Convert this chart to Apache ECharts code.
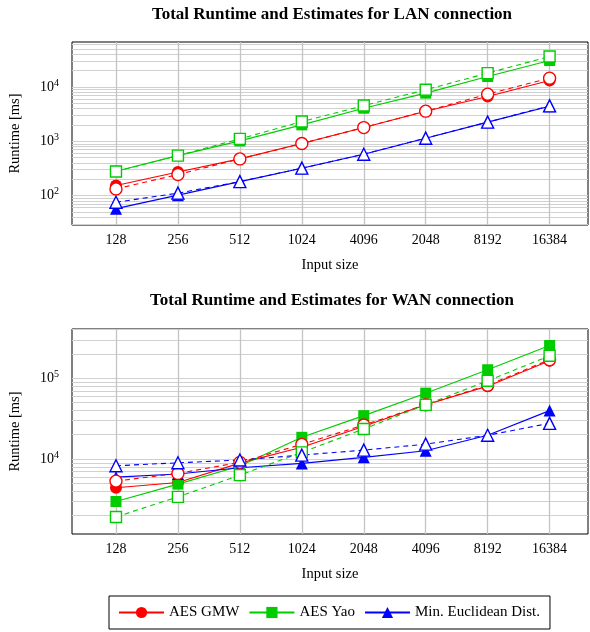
<!DOCTYPE html>
<html>
<head>
<meta charset="utf-8">
<script src="https://cdn.jsdelivr.net/npm/echarts@6/dist/echarts.min.js"></script>
<style>
  html, body { margin: 0; padding: 0; background: #fff; }
  #chart { width: 590px; height: 632px; }
</style>
</head>
<body>
<div id="chart"></div>
<script>
// input sizes (LAN plot has 4096/2048 swapped, as in the original)
var lanSizes = ['128', '256', '512', '1024', '4096', '2048', '8192', '16384'];
var wanSizes = ['128', '256', '512', '1024', '2048', '4096', '8192', '16384'];

// LAN runtimes [ms]: measured and estimated
var lanGmw    = [153, 273, 474, 908, 1786, 3580, 6650, 13100];
var lanGmwEst = [133, 244, 474, 908, 1786, 3580, 7360, 14500];
var lanYao    = [280, 545, 1016, 2005, 4060, 7690, 15560, 30600];
var lanYaoEst = [277, 545, 1107, 2306, 4540, 8850, 17950, 36300];
var lanEuc    = [57.6, 102, 181, 320, 578, 1140, 2250, 4400];
var lanEucEst = [75.5, 111, 181, 320, 578, 1140, 2250, 4490];

// WAN runtimes [ms]
var wanGmw    = [4410, 5130, 8900, 14000, 25500, 47000, 80000, 165000];
var wanGmwEst = [5330, 6640, 9100, 15200, 26400, 47000, 82000, 170000];
var wanYao    = [2980, 4890, 8190, 18600, 34500, 65500, 127700, 255000];
var wanYaoEst = [1920, 3400, 6320, 12100, 23600, 46900, 93100, 190000];
var wanEuc    = [5970, 6520, 7800, 8840, 10500, 12700, 19700, 39800];
var wanEucEst = [8260, 8990, 9720, 11200, 12900, 15300, 19700, 27700];

var lanRange = [28.8, 67100];
var wanRange = [1180, 408000];

var serif = 'Liberation Serif';
var red = '#ff0000', green = '#00cc00', blue = '#0000ff';

var chart = echarts.init(document.getElementById('chart'), null, { renderer: 'canvas' });

// log grid lines at 1..9 x 10^k inside the range
function gridLines(range, n) {
  var out = [];
  for (var k = -1; k < 7; k++) {
    for (var m = 1; m < 10; m++) {
      var v = m * Math.pow(10, k);
      if (v > range[0] * 1.001 && v < range[1] * 0.999) out.push({ yAxis: v });
    }
  }
  for (var i = 0; i < n; i++) {
    out.push({ xAxis: i, lineStyle: { color: '#c4c4c4', width: 1.3 } });
  }
  return out;
}

function logLabel(v) {
  var l = Math.log10(v), e = Math.round(l);
  if (Math.abs(l - e) > 1e-6) return '';
  return '{b|10}{e|' + e + '}';
}

function pair(arr) {
  return arr.map(function (v, i) { return [i, v]; });
}

function measured(name, data, color, symbol, size, g, range, n) {
  var s = {
    name: name, type: 'line', xAxisIndex: g, yAxisIndex: g,
    data: pair(data), symbol: symbol, symbolSize: size,
    showAllSymbol: true,
    itemStyle: { color: color },
    lineStyle: { color: color, width: 1.1 },
    z: 3
  };
  if (range) {
    s.markLine = {
      silent: true, z: 1, animation: false,
      symbol: ['none', 'none'],
      label: { show: false },
      lineStyle: { color: '#d0d0d0', width: 1, type: 'solid' },
      data: gridLines(range, n)
    };
  }
  return s;
}

function estimate(name, data, color, symbol, size, g) {
  return {
    name: name + ' (est.)', type: 'line', xAxisIndex: g, yAxisIndex: g,
    data: pair(data), symbol: symbol, symbolSize: size,
    showAllSymbol: true,
    itemStyle: { color: '#fff', borderColor: color, borderWidth: 1.4 },
    lineStyle: { color: color, width: 1.1, type: [5, 4] },
    z: 4
  };
}

function xAxisFor(g, labels) {
  var idx = labels.map(function (s, i) { return i; });
  return {
    type: 'value', gridIndex: g, min: -0.71, max: 7.62,
    axisLine: { show: false },
    splitLine: { show: false },
    axisTick: { show: true, inside: true, length: 4, customValues: idx, lineStyle: { color: '#000' } },
    axisLabel: {
      customValues: idx, color: '#000', fontFamily: serif, fontSize: 14, margin: 8,
      formatter: function (v) { return labels[Math.round(v)]; }
    },
    name: 'Input size', nameLocation: 'middle', nameGap: 33,
    nameTextStyle: { color: '#000', fontFamily: serif, fontSize: 14.5 }
  };
}

function yAxisFor(g, range) {
  return {
    type: 'log', logBase: 10, gridIndex: g, min: range[0], max: range[1],
    axisLine: { show: false },
    splitLine: { show: false },
    axisTick: { show: false },
    axisLabel: {
      margin: 13, formatter: logLabel,
      rich: {
        b: { fontFamily: serif, fontSize: 14, color: '#000', lineHeight: 18 },
        e: { fontFamily: serif, fontSize: 10, color: '#000', lineHeight: 11, verticalAlign: 'top' }
      }
    },
    name: 'Runtime [ms]', nameLocation: 'middle', nameGap: 49,
    nameTextStyle: { color: '#000', fontFamily: serif, fontSize: 14.5 }
  };
}

var titleStyle = { fontFamily: serif, fontSize: 17, fontWeight: 'bold', color: '#000' };

chart.setOption({
  animation: false,
  backgroundColor: '#fff',
  title: [
    { text: 'Total Runtime and Estimates for LAN connection', left: 327, top: 1, textAlign: 'center', textStyle: titleStyle },
    { text: 'Total Runtime and Estimates for WAN connection', left: 327, top: 287, textAlign: 'center', textStyle: titleStyle }
  ],
  grid: [
    { left: 71, top: 42, width: 517, height: 183, show: true, borderColor: '#000', borderWidth: 1, backgroundColor: 'transparent' },
    { left: 71, top: 329, width: 517, height: 205, show: true, borderColor: '#000', borderWidth: 1, backgroundColor: 'transparent' }
  ],
  xAxis: [xAxisFor(0, lanSizes), xAxisFor(1, wanSizes)],
  yAxis: [yAxisFor(0, lanRange), yAxisFor(1, wanRange)],
  legend: {
    data: ['AES GMW', 'AES Yao', 'Min. Euclidean Dist.'],
    left: 109, top: 596,
    padding: [9, 10, 9, 9],
    borderColor: '#000', borderWidth: 1,
    itemWidth: 45, itemHeight: 14, itemGap: 9,
    textStyle: { fontFamily: serif, fontSize: 15, color: '#000' }
  },
  series: [
    measured('AES GMW', lanGmw, red, 'circle', 12, 0, lanRange, lanSizes.length),
    measured('AES Yao', lanYao, green, 'rect', 11, 0),
    measured('Min. Euclidean Dist.', lanEuc, blue, 'triangle', 12, 0),
    estimate('AES GMW', lanGmwEst, red, 'circle', 12, 0),
    estimate('AES Yao', lanYaoEst, green, 'rect', 11, 0),
    estimate('Min. Euclidean Dist.', lanEucEst, blue, 'triangle', 12, 0),
    measured('AES GMW', wanGmw, red, 'circle', 12, 1, wanRange, wanSizes.length),
    measured('AES Yao', wanYao, green, 'rect', 11, 1),
    measured('Min. Euclidean Dist.', wanEuc, blue, 'triangle', 12, 1),
    estimate('AES GMW', wanGmwEst, red, 'circle', 12, 1),
    estimate('AES Yao', wanYaoEst, green, 'rect', 11, 1),
    estimate('Min. Euclidean Dist.', wanEucEst, blue, 'triangle', 12, 1)
  ]
});
window.addEventListener('resize', function () { chart.resize(); });
</script>
</body>
</html>
